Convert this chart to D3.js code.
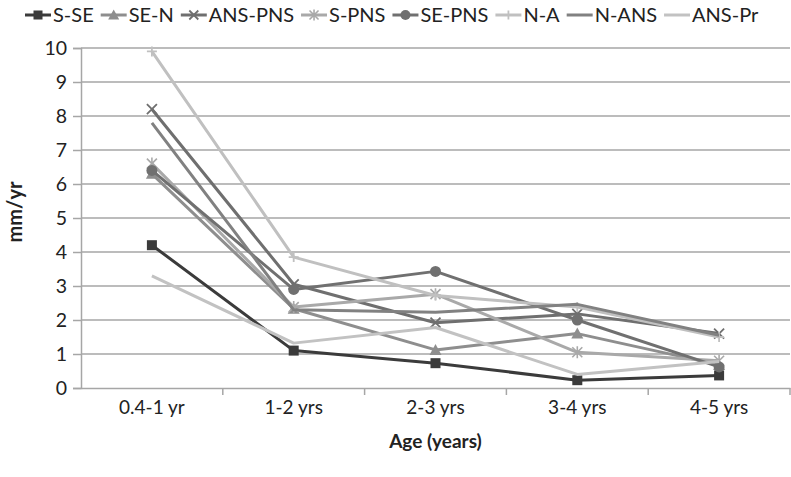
<!DOCTYPE html>
<html><head><meta charset="utf-8">
<script src="https://cdn.jsdelivr.net/npm/d3@7"></script>
<style>body{margin:0;background:#fff}svg{display:block}</style>
</head><body>
<svg id="c" width="791" height="477"></svg>
<script>
const categories = ["0.4-1 yr","1-2 yrs","2-3 yrs","3-4 yrs","4-5 yrs"];
const yTicks = [0,1,2,3,4,5,6,7,8,9,10];
const seriesNames = ["S-SE","SE-N","ANS-PNS","S-PNS","SE-PNS","N-A","N-ANS","ANS-Pr"];
const sSE    = [4.2, 1.1, 0.73, 0.23, 0.37];
const seN    = [6.3, 2.33, 1.12, 1.6, 0.68];
const ansPns = [8.2, 3.05, 1.92, 2.18, 1.6];
const sPns   = [6.6, 2.38, 2.76, 1.05, 0.8];
const sePns  = [6.4, 2.9, 3.43, 2.0, 0.62];
const nA     = [9.9, 3.85, 2.72, 2.38, 1.5];
const nAns   = [7.8, 2.3, 2.23, 2.46, 1.55];
const ansPr  = [3.3, 1.32, 1.78, 0.4, 0.78];
const seriesValues = [sSE, seN, ansPns, sPns, sePns, nA, nAns, ansPr];

const styles = [
  {color:"#3b3b3b", marker:"square"},
  {color:"#8e8e8e", marker:"triangle"},
  {color:"#6f6f6f", marker:"x"},
  {color:"#a9a9a9", marker:"star"},
  {color:"#707070", marker:"circle"},
  {color:"#c0c0c0", marker:"plus"},
  {color:"#818181", marker:"none"},
  {color:"#c2c2c2", marker:"none"}
];

const svg = d3.select("#c");
const font = "Lato, 'Open Sans', sans-serif";
const m = {left:81, right:790, top:48, bottom:388};
const x = d3.scaleBand().domain(categories).range([m.left, m.right]);
const y = d3.scaleLinear().domain([0,10]).range([m.bottom, m.top]);

// gridlines
svg.append("g").selectAll("line").data(yTicks.filter(d=>d>0)).join("line")
  .attr("x1", m.left).attr("x2", m.right)
  .attr("y1", d=>y(d)).attr("y2", d=>y(d))
  .attr("stroke","#a6a6a6").attr("stroke-width",1.5);

// y axis
const ya = svg.append("g").attr("transform",`translate(${m.left},0)`)
  .call(d3.axisLeft(y).tickValues(yTicks).tickSize(8).tickPadding(6));
ya.select(".domain").attr("stroke","#a6a6a6").attr("stroke-width",1.5);
ya.selectAll(".tick line").attr("stroke","#a6a6a6").attr("stroke-width",1.5);
ya.selectAll("text").attr("font-family",font).attr("font-size",19.5).attr("fill","#222");

// x axis
const xa = svg.append("g").attr("transform",`translate(0,${m.bottom})`)
  .call(d3.axisBottom(x).tickSize(0).tickPadding(13));
xa.select(".domain").attr("stroke","#a6a6a6").attr("stroke-width",1.5);
xa.selectAll("text").attr("font-family",font).attr("font-size",19).attr("fill","#222");
// tick marks at band boundaries
const bounds = categories.map(c=>x(c)+x.bandwidth());
svg.append("g").selectAll("line").data(bounds).join("line")
  .attr("x1",d=>d).attr("x2",d=>d).attr("y1",m.bottom).attr("y2",m.bottom+7)
  .attr("stroke","#a6a6a6").attr("stroke-width",1.5);

// titles
svg.append("text").attr("x",(m.left+m.right)/2).attr("y",448).attr("text-anchor","middle")
  .attr("font-family",font).attr("font-weight","bold").attr("font-size",19).attr("fill","#222").text("Age (years)");
svg.append("text").attr("transform",`translate(22,${(m.top+m.bottom)/2 - 6}) rotate(-90)`)
  .attr("text-anchor","middle").attr("font-family",font).attr("font-weight","bold")
  .attr("font-size",20).attr("fill","#222").text("mm/yr");

function drawMarker(g, type, color, cx, cy, s){
  if(type==="square") g.append("rect").attr("x",cx-s/2).attr("y",cy-s/2).attr("width",s).attr("height",s).attr("fill",color);
  else if(type==="circle") g.append("circle").attr("cx",cx).attr("cy",cy).attr("r",s/2+0.5).attr("fill",color);
  else if(type==="triangle") g.append("path").attr("d",`M${cx},${cy-s/2-1}L${cx+s/2+1},${cy+s/2}L${cx-s/2-1},${cy+s/2}Z`).attr("fill",color);
  else if(type==="x") g.append("path").attr("d",`M${cx-s/2},${cy-s/2}L${cx+s/2},${cy+s/2}M${cx+s/2},${cy-s/2}L${cx-s/2},${cy+s/2}`).attr("stroke",color).attr("stroke-width",1.8);
  else if(type==="star") g.append("path").attr("d",`M${cx-s/2},${cy-s/2}L${cx+s/2},${cy+s/2}M${cx+s/2},${cy-s/2}L${cx-s/2},${cy+s/2}M${cx},${cy-s/2-1}L${cx},${cy+s/2+1}`).attr("stroke",color).attr("stroke-width",1.6);
  else if(type==="plus") g.append("path").attr("d",`M${cx-s/2},${cy}L${cx+s/2},${cy}M${cx},${cy-s/2}L${cx},${cy+s/2}`).attr("stroke",color).attr("stroke-width",1.8);
}

const line = d3.line().x((d,i)=>x(categories[i])+x.bandwidth()/2).y(d=>y(d));
seriesValues.forEach((vals,k)=>{
  const st = styles[k];
  const g = svg.append("g");
  g.append("path").datum(vals).attr("d",line).attr("fill","none")
    .attr("stroke",st.color).attr("stroke-width",3).attr("stroke-linejoin","round");
  vals.forEach((v,i)=>drawMarker(g, st.marker, st.color, x(categories[i])+x.bandwidth()/2, y(v), 10));
});

// legend
const lg = svg.append("g");
let lx = 25;
const ly = 15;
seriesNames.forEach((name,k)=>{
  const st = styles[k];
  lg.append("line").attr("x1",lx).attr("x2",lx+26).attr("y1",ly).attr("y2",ly)
    .attr("stroke",st.color).attr("stroke-width",3);
  drawMarker(lg, st.marker, st.color, lx+13, ly, 9);
  const t = lg.append("text").attr("x",lx+28).attr("y",ly+7).attr("font-family",font)
    .attr("font-size",20).attr("fill","#222").text(name);
  lx += 28 + t.node().getComputedTextLength() + 7;
});
</script>
</body></html>
